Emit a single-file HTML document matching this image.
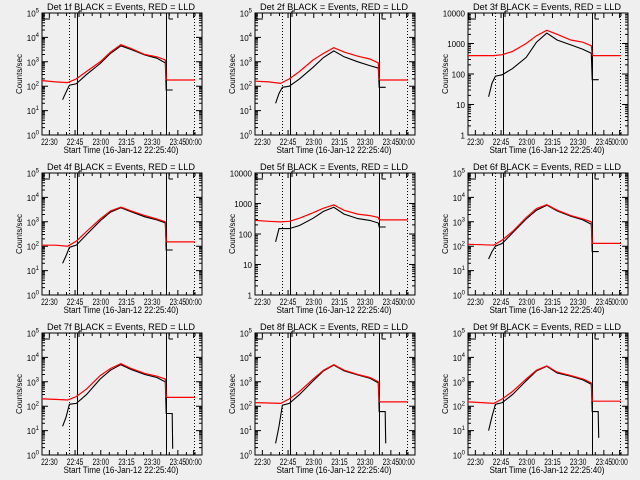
<!DOCTYPE html>
<html><head><meta charset="utf-8"><style>
html,body{margin:0;padding:0;background:#efefef;}
svg{display:block;font-family:"Liberation Sans",sans-serif;}
</style></head><body>
<svg id="chart" width="640" height="480" viewBox="0 0 640 480" xmlns="http://www.w3.org/2000/svg">
<rect width="640" height="480" fill="#efefef"/>
</svg>
<script>
const detNames = ["1f","2f","3f","4f","5f","6f","7f","8f","9f"];
const decades = [5,5,4,5,4,5,5,5,5];
const mainTimes = [0,8,15,20,26,34,40,46,52,60,67,72];
const redMain = [
 [170,150,140,200,400,1000,2500,5000,3500,2000,1600,1200],
 [160,150,130,200,400,1200,2200,3800,2500,1700,1300,900],
 [400,400,400,430,550,1000,1800,2700,2000,1300,1100,850],
 [110,110,100,160,400,1300,2800,4000,2800,1800,1300,1000],
 [280,260,250,260,330,500,700,900,600,450,400,350],
 [120,115,110,180,400,1500,3500,5000,3000,1800,1300,1000],
 [200,190,180,250,500,1800,3500,5500,3500,2200,1700,1300],
 [140,135,130,200,400,1300,3000,5000,3000,2000,1500,1000],
 [150,140,130,200,400,1300,3000,4500,2500,1800,1300,900]
];
const blackTimes = [12,14,16,20,26,34,40,46,52,60,67,72];
const blackMain = [
 [28,57,110,125,300,850,2200,4500,3200,1900,1400,900],
 [20,50,90,100,200,600,1500,2800,1600,1000,700,550],
 [18,50,85,95,150,350,1100,2200,1300,900,650,480],
 [20,40,90,110,300,1100,2500,3800,2600,1600,1200,900],
 [55,150,150,150,190,330,550,750,450,320,280,230],
 [30,60,100,130,350,1300,3000,4800,2800,1700,1200,800],
 [15,35,120,130,300,1300,3000,5000,3200,2000,1500,1000],
 [3,15,110,130,300,1100,2800,4800,2800,1900,1400,900],
 [10,38,120,140,300,1100,2800,4300,2300,1700,1200,800]
];
const redRight = [180,180,400,150,290,130,230,150,160];
const blackRight = [70,90,65,70,170,60,50,60,60];
const blackTail = [70,90,65,70,170,60,1.8,3,5];
const tickLabels = ["22:30","22:45","23:00","23:15","23:30","23:45","00:00"];
const tickTimes = [4.3,19.3,34.3,49.3,64.3,79.3,88.5];
const vlineTimes = [15.8,20.4,72.4,88.7];

const NS="http://www.w3.org/2000/svg";
const svg=document.getElementById('chart');
function mk(tag,attrs,parent){const e=document.createElementNS(NS,tag);for(const k in attrs)e.setAttribute(k,attrs[k]);(parent||svg).appendChild(e);return e;}

for(let p=0;p<9;p++){
  const col=p%3,row=Math.floor(p/3);
  const ox=col*213,oy=row*160;
  const x0=ox+42,x1=ox+202,y0=oy+13,y1=oy+135;
  const n=decades[p];
  const xs=t=>x0+t*(x1-x0)/93.4;
  const ys=v=>y1-Math.log10(v)/n*(y1-y0);
  const g=mk('g',{});
  
  
  const title=mk('text',{x:ox+121,y:oy+10,'font-size':9.5,'text-anchor':'middle',fill:'#000',textLength:148,lengthAdjust:'spacingAndGlyphs'},g);
  title.textContent='Det '+detNames[p]+' BLACK = Events, RED = LLD';
  
  
  const yt=mk('text',{x:0,y:0,'font-size':8,'text-anchor':'middle',fill:'#000',transform:`translate(${ox+22},${oy+74}) rotate(-90)`},g);
  yt.textContent='Counts/sec';
  
  
  const xt=mk('text',{x:ox+121,y:oy+153,'font-size':9,'text-anchor':'middle',fill:'#000',textLength:115,lengthAdjust:'spacingAndGlyphs'},g);
  xt.textContent='Start Time (16-Jan-12 22:25:40)';
  
  
  const box=mk('rect',{x:x0,y:y0,width:x1-x0,height:y1-y0,fill:'none',stroke:'#000','stroke-width':1},g);
  
  
  let d='';
  for(let k=0;k<=n;k++){
    const y=ys(Math.pow(10,k));
    d+=`M${x0} ${y}h6M${x1} ${y}h-6`;
    const lab=mk('text',{x:x0-3,y:y+3.5,'font-size':8,'text-anchor':'end',fill:'#000'},g);
    
    
    if(n===4){lab.textContent=String(Math.pow(10,k));}
    else{
      const a=mk('tspan',{},lab);a.textContent='10';
      const b=mk('tspan',{dy:-4,'font-size':6},lab);b.textContent=String(k);
    }
    if(k<n){for(let m=2;m<10;m++){const ym=ys(m*Math.pow(10,k));d+=`M${x0} ${ym}h3M${x1} ${ym}h-3`;}}
  }
  for(let i=0;i<tickTimes.length;i++){
    const x=xs(tickTimes[i]);
    d+=`M${x} ${y1}v-5M${x} ${y0}v5`;
    const lab=mk('text',{x:x,y:y1+10,'font-size':9,'text-anchor':'middle',fill:'#000',textLength:16.5,lengthAdjust:'spacingAndGlyphs'},g);
    lab.textContent=tickLabels[i];
    
    
  }
  for(let t=4.3;t<90;t+=5){const x=xs(t);d+=`M${x} ${y1}v-3M${x} ${y0}v3`;}
  const ticks=mk('path',{d:d,stroke:'#000','stroke-width':1,fill:'none'},g);
  
  
  vlineTimes.forEach((t,i)=>{
    const x=Math.round(xs(t))+0.5;
    const l=mk('line',{x1:x,x2:x,y1:y0,y2:y1,stroke:'#000','stroke-width':1,'stroke-dasharray':(i===0||i===3)?'1,2':'none'},g);
    
    
  });
  const xa=Math.round(xs(vlineTimes[2]))+3;
  const br=mk('path',{d:`M${x0+1} ${y0}v6h7M${xa} ${y0+6}v-6h7M${xa} ${y0+6}h4M${Math.round(xs(vlineTimes[1]))+2} ${y0-2}v6M${Math.round(xs(vlineTimes[1]))+2} ${y0-2}h3`,stroke:'#000','stroke-width':1,fill:'none'},g);
  
  
  const steps=(ts,vs)=>{let s='';for(let i=0;i<ts.length;i++){const x=xs(ts[i]),y=ys(vs[i]);s+=(i?'L':'M')+x.toFixed(1)+' '+y.toFixed(1);}return s;};
  const rm=redMain[p];
  const rPath=steps(mainTimes.concat([72.5]),rm.concat([redRight[p]]))+'M'+xs(72.7).toFixed(1)+' '+ys(redRight[p]).toFixed(1)+'L'+xs(89.3).toFixed(1)+' '+ys(redRight[p]).toFixed(1);
  const bm=blackMain[p];
  const bPath=steps(blackTimes.concat([72.5,72.7,76,76.3]),bm.concat([blackRight[p],blackRight[p],blackRight[p],blackTail[p]]));
  const blk=mk('path',{d:bPath,stroke:'#000','stroke-width':1.1,fill:'none'},g);
  
  
  const red=mk('path',{d:rPath,stroke:'#ff0000','stroke-width':1.2,fill:'none'},g);
  
  
}
</script>
</body></html>
